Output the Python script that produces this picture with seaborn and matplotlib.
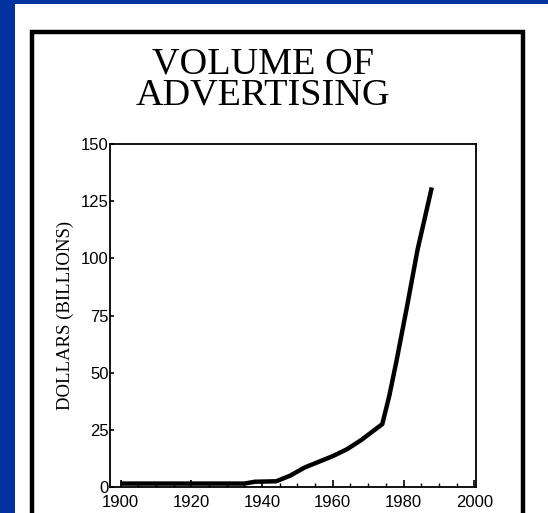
import matplotlib
matplotlib.use("Agg")
import matplotlib.pyplot as plt
from matplotlib.patches import Rectangle
from matplotlib.ticker import MultipleLocator
import numpy as np
import pandas as pd
import seaborn as sns

# values (billions of dollars)
years = [1900, 1905, 1910, 1915, 1920, 1925, 1930, 1935, 1938, 1944,
         1948, 1952, 1956, 1960, 1964, 1968, 1971, 1974, 1976, 1978,
         1981, 1984, 1988]
spending = [1.5, 1.5, 1.5, 1.5, 1.5, 1.5, 1.5, 1.5, 2.3, 2.5,
            5.0, 8.5, 11.0, 13.5, 16.5, 20.5, 24.0, 27.5, 40.0, 55.0,
            79.0, 104.0, 131.0]
x_ticks = [1900, 1920, 1940, 1960, 1980, 2000]
y_ticks = [0, 25, 50, 75, 100, 125, 150]

df = pd.DataFrame({"year": years, "dollars": spending})

sns.set_style("ticks")
plt.rcParams["font.family"] = ["Liberation Sans", "DejaVu Sans"]

W, H = 548, 513
fig = plt.figure(figsize=(W / 100, H / 100), dpi=100)
fig.patch.set_facecolor("#0033a0")

# white slide area and black frame
fig.add_artist(Rectangle((15 / W, 0), 1, 1 - 4 / H, transform=fig.transFigure,
                         facecolor="white", edgecolor="none", zorder=0))
fig.add_artist(Rectangle((32 / W, -0.05), (523 - 32) / W, 1.05 - 32 / H,
                         transform=fig.transFigure, facecolor="none",
                         edgecolor="black", linewidth=3.2, zorder=1))

ax = fig.add_axes([110 / W, 1 - 487 / H, (476 - 110) / W, (487 - 144) / H])
ax.set_facecolor("white")

sns.lineplot(data=df, x="year", y="dollars", ax=ax, color="black",
             linewidth=3.2, solid_capstyle="butt")

ax.set_xlim(1897, 2000.5)
ax.set_ylim(0, 150)
ax.set_xticks(x_ticks)
ax.set_yticks(y_ticks)
ax.xaxis.set_minor_locator(MultipleLocator(5))
ax.tick_params(axis="both", which="both", direction="in", color="black",
               labelsize=12, labelcolor="black")
ax.tick_params(axis="x", which="major", length=5, width=1.2, pad=6)
ax.tick_params(axis="x", which="minor", length=3, width=1.0)
ax.tick_params(axis="y", which="major", length=3, width=1.2, pad=1)
for s in ax.spines.values():
    s.set_visible(True)
    s.set_linewidth(1.3)
    s.set_color("black")

ax.set_xlabel("")
ax.set_ylabel("DOLLARS (BILLIONS)", family="Liberation Serif", fontsize=13.5,
              color="black", labelpad=5)

fig.text(263 / W, 1 - 80 / H, "VOLUME OF\nADVERTISING", ha="center",
         va="center", family="Liberation Serif", fontsize=27.5,
         color="black", linespacing=0.88)

fig.savefig("out.png", dpi=100, facecolor=fig.get_facecolor())
